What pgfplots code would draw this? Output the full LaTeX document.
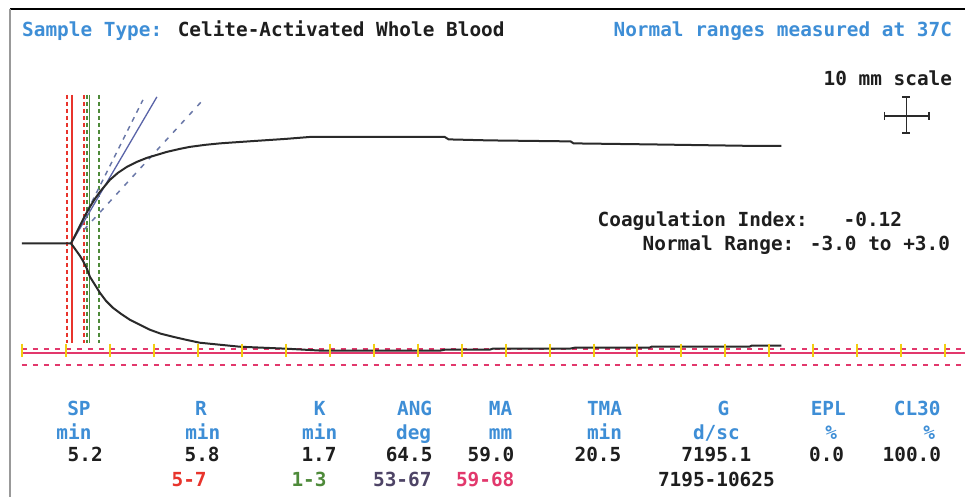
\documentclass[border=0pt]{standalone}
\usepackage{pgfplots}
\pgfplotsset{compat=1.18}
\usepackage{fontspec}
\setmainfont{DejaVu Sans Mono}
\definecolor{tegblue}{HTML}{3E8ED6}
\definecolor{tegred}{HTML}{E8342C}
\definecolor{teggreen}{HTML}{4E8A3A}
\definecolor{tegpurple}{HTML}{4E4466}
\definecolor{tegpink}{HTML}{E2386C}
\definecolor{tegtrace}{HTML}{2A2A2A}
\definecolor{tegtan}{HTML}{5A64A8}
\definecolor{tegtand}{HTML}{6A78A8}
\definecolor{tegyellow}{HTML}{F2CE10}
\definecolor{tegtext}{HTML}{1E1E1E}
\newcommand{\tf}{\fontsize{19.4}{21}\selectfont\bfseries}
\tikzset{t/.style={inner sep=0pt,font=\tf,text=tegtext},
         b/.style={inner sep=0pt,font=\tf,text=tegblue}}
\begin{document}
\begin{tikzpicture}
\begin{axis}[x=1pt,y=1pt,y dir=reverse,xmin=0,xmax=966,ymin=0,ymax=497,
  hide axis,clip=false]
\fill[white] (axis cs:0,0) rectangle (axis cs:966,497);
% frame
\draw[line width=1.5pt,black] (axis cs:10,9) -- (axis cs:966,9);
\draw[line width=2pt,gray!80] (axis cs:10,9) -- (axis cs:10,497);
% header
\node[t,anchor=base west] at (axis cs:22,37) {\textcolor{tegblue}{Sample Type:} Celite-Activated Whole Blood};
\node[b,anchor=base east] at (axis cs:953,37) {Normal ranges measured at 37C};
\node[t,anchor=base east] at (axis cs:953,86) {10 mm scale};
% scale cross
\addplot[tegtrace,line width=1.5pt] coordinates {(885,116) (930,116)};
\addplot[tegtrace,line width=1.5pt] coordinates {(907,97) (907,133)};
\addplot[tegtrace,line width=1.5pt] coordinates {(885,112) (885,120)};
\addplot[tegtrace,line width=1.5pt] coordinates {(930,112) (930,120)};
\addplot[tegtrace,line width=1.5pt] coordinates {(903,97) (911,97)};
\addplot[tegtrace,line width=1.5pt] coordinates {(903,133) (911,133)};
% coagulation index
\node[t,anchor=base west] at (axis cs:598,227) {Coagulation Index:};
\node[t,anchor=base east] at (axis cs:903,227) {-0.12};
\node[t,anchor=base east] at (axis cs:951,251) {Normal Range: -3.0 to +3.0};
% bottom reference lines
\addplot[tegpink,line width=1.6pt] coordinates {(22,353) (966,353)};
\addplot[tegpink,line width=1.6pt,dash pattern=on 5pt off 6pt] coordinates {(22,349) (966,349)};
\addplot[tegpink,line width=1.6pt,dash pattern=on 5pt off 6pt] coordinates {(22,365) (966,365)};
% R and K markers
\addplot[tegred,line width=1.5pt,dash pattern=on 4pt off 3pt] coordinates {(67,95) (67,343)};
\addplot[tegred,line width=1.5pt] coordinates {(72,95) (72,343)};
\addplot[tegred,line width=1.5pt,dash pattern=on 4pt off 3pt] coordinates {(84,95) (84,343)};
\addplot[teggreen,line width=1.5pt,dash pattern=on 4pt off 3pt] coordinates {(87,95) (87,343)};
\addplot[teggreen,line width=1.5pt] coordinates {(89.5,95) (89.5,343)};
\addplot[teggreen,line width=1.5pt,dash pattern=on 4pt off 3pt] coordinates {(99,95) (99,343)};
% angle lines
\addplot[tegtan,line width=1.3pt] coordinates {(71,244) (157,97)};
\addplot[tegtand,line width=1.5pt,dash pattern=on 5pt off 5pt] coordinates {(74,238) (143,100)};
\addplot[tegtand,line width=1.5pt,dash pattern=on 5pt off 7pt] coordinates {(84,230) (205,98)};
% trace
\addplot[tegtrace,line width=2pt] coordinates {
(22,243.5)(71,243.5)(75,236)(80,226)(85,216)(90,207)(95,199)(100,192)(105,186)
(110,180)(118,173)(127,167)(137,162)(147,158)(157,155)(167,152)(180,149)(190,147)
(205,145)(220,143.5)(234,142.5)(256,141)(286,139)(311,137)(445,137)(449,139.5)
(489,140.5)(571,141.5)(574,143.5)(650,144.5)(752,146)(782,146)};
\addplot[tegtrace,line width=2pt] coordinates {
(71,243.5)(75,249)(80,256)(83,261)(87,269)(90,277)(95,285)(100,293)(106,301)
(113,308)(121,314)(130,320)(140,325)(150,330)(161,334)(173,337)(186,340)(200,343)
(220,345)(240,347)(263,348)(287,349)(323,351)(440,351)(445,350)(490,350)(493,349)
(570,349)(575,348)(650,348)(652,347)(750,347)(752,346)(782,346)};
% yellow time ticks (drawn on top)
\addplot[tegyellow,line width=2pt,only marks,mark=|,mark size=6.5pt,
  mark options={line width=2pt,draw=tegyellow,fill=tegyellow}] coordinates {
(22,350.5)(66,350.5)(110,350.5)(154,350.5)(198,350.5)(242,350.5)(286,350.5)
(330,350.5)(374,350.5)(418,350.5)(462,350.5)(506,350.5)(550,350.5)(594,350.5)
(638,350.5)(682,350.5)(726,350.5)(770,350.5)(814,350.5)(858,350.5)(902,350.5)(946,350.5)};
% table
\node[b,anchor=base] at (axis cs:79,416) {SP};
\node[b,anchor=base] at (axis cs:74,440) {min};
\node[t,anchor=base east] at (axis cs:103,462) {5.2};
\node[b,anchor=base] at (axis cs:201,416) {R};
\node[b,anchor=base] at (axis cs:203,440) {min};
\node[t,anchor=base east] at (axis cs:220,462) {5.8};
\node[t,anchor=base east,text=tegred] at (axis cs:207,487) {5-7};
\node[b,anchor=base] at (axis cs:320,416) {K};
\node[b,anchor=base] at (axis cs:320,440) {min};
\node[t,anchor=base east] at (axis cs:337,462) {1.7};
\node[t,anchor=base east,text=teggreen] at (axis cs:327,487) {1-3};
\node[b,anchor=base] at (axis cs:415,416) {ANG};
\node[b,anchor=base] at (axis cs:414,440) {deg};
\node[t,anchor=base east] at (axis cs:433,462) {64.5};
\node[t,anchor=base east,text=tegpurple] at (axis cs:432,487) {53-67};
\node[b,anchor=base] at (axis cs:501,416) {MA};
\node[b,anchor=base] at (axis cs:501,440) {mm};
\node[t,anchor=base east] at (axis cs:515,462) {59.0};
\node[t,anchor=base east,text=tegpink] at (axis cs:515,487) {59-68};
\node[b,anchor=base] at (axis cs:605,416) {TMA};
\node[b,anchor=base] at (axis cs:605,440) {min};
\node[t,anchor=base east] at (axis cs:622,462) {20.5};
\node[b,anchor=base] at (axis cs:724,416) {G};
\node[b,anchor=base] at (axis cs:717,440) {d/sc};
\node[t,anchor=base] at (axis cs:717,462) {7195.1};
\node[t,anchor=base] at (axis cs:717,487) {7195-10625};
\node[b,anchor=base] at (axis cs:829,416) {EPL};
\node[b,anchor=base] at (axis cs:832,440) {\%};
\node[t,anchor=base east] at (axis cs:845,462) {0.0};
\node[b,anchor=base] at (axis cs:918,416) {CL30};
\node[b,anchor=base] at (axis cs:930,440) {\%};
\node[t,anchor=base east] at (axis cs:942,462) {100.0};
\end{axis}
\end{tikzpicture}
\end{document}
